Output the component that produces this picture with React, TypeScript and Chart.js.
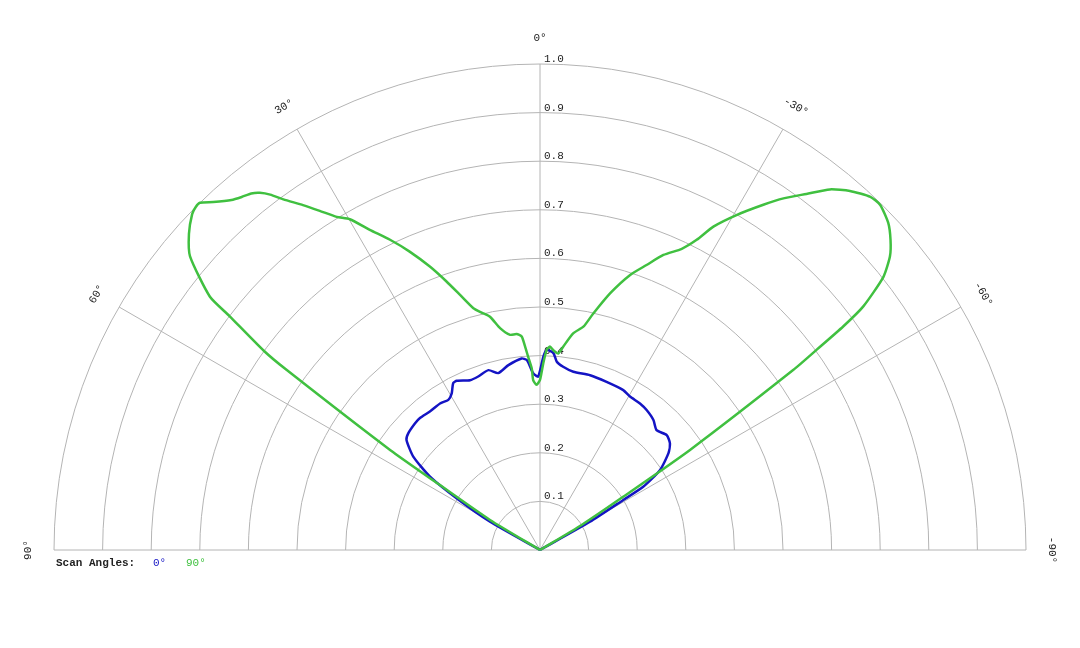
import { useEffect, useRef } from "react";
import Chart from "chart.js/auto";

// radial rings (relative intensity) and their labels
const RINGS = [0.1, 0.2, 0.3, 0.4, 0.5, 0.6, 0.7, 0.8, 0.9, 1.0];
const RING_LABELS = ["0.1", "0.2", "0.3", "0.4", "0.5", "0.6", "0.7", "0.8", "0.9", "1.0"];

// spokes, degrees (positive to the left of vertical)
const SPOKES = [90, 60, 30, 0, -30, -60, -90];
const SPOKE_LABELS = ["90°", "60°", "30°", "0°", "-30°", "-60°", "-90°"];

const SERIES_NAMES = ["0°", "90°"];
const SERIES_COLORS = ["#1414c4", "#40c040"];

// scan angle 0°
const BLUE_ANGLES = [
  90, 63, 60.5, 58.2, 56.3, 53.6, 50.5, 48.5, 44.6, 42.3, 38.5, 34.3, 31.4, 29.4, 27.5, 26.2,
  22.4, 19.6, 16, 13.3, 9.7, 5.5, 4, 3.1, 2.2, 0.6, -1, -1.9, -3.9, -5.1, -7.2, -10.6, -16,
  -21.6, -27.5, -30.4, -34.3, -37.3, -41.1, -44.2, -47.8, -50.6, -53, -56.3, -58.5, -59,
  -60.5, -63, -90,
];
const BLUE_VALUES = [
  0, 0, 0.118, 0.202, 0.272, 0.324, 0.356, 0.362, 0.366, 0.367, 0.364, 0.365, 0.362, 0.37,
  0.387, 0.388, 0.378, 0.379, 0.385, 0.374, 0.386, 0.396, 0.392, 0.378, 0.364, 0.357, 0.398,
  0.412, 0.406, 0.389, 0.38, 0.373, 0.374, 0.372, 0.371, 0.366, 0.365, 0.362, 0.355, 0.344,
  0.352, 0.346, 0.331, 0.297, 0.249, 0.2, 0.118, 0, 0,
];

// scan angle 90°
const GREEN_ANGLES = [
  90, 62, 59, 57, 56.3, 54.6, 54.2, 53, 52.5, 50, 48, 46, 45.1, 44.4, 43.2, 41.4, 40.2, 39,
  38.1, 37.2, 36.2, 34.5, 33, 31.4, 29.9, 28, 25.8, 23.6, 21.2, 19.2, 17.4, 15.4, 13.8, 12.1,
  10.2, 7.9, 6.2, 4.9, 4.2, 3.5, 2.6, 2.3, 1.2, 0, -1, -1.9, -2.8, -3.8, -5.3, -6.5, -8.7,
  -11, -12.7, -15.3, -18.1, -20.5, -22.7, -25.2, -26.8, -28.2, -30.4, -32.9, -34.7, -36.8,
  -38.8, -40.8, -43.1, -44.6, -46.8, -48.5, -50, -51.5, -53, -53.6, -54.1, -54.6, -56.3,
  -57.4, -59, -62, -90,
];
const GREEN_VALUES = [
  0, 0, 0.12, 0.25, 0.37, 0.64, 0.7, 0.8, 0.856, 0.94, 0.972, 0.995, 1.0, 1.0, 0.982, 0.96,
  0.951, 0.944, 0.934, 0.918, 0.894, 0.861, 0.832, 0.803, 0.785, 0.746, 0.709, 0.67, 0.625,
  0.585, 0.55, 0.516, 0.503, 0.491, 0.464, 0.447, 0.447, 0.441, 0.42, 0.398, 0.374, 0.35,
  0.34, 0.35, 0.384, 0.412, 0.419, 0.412, 0.406, 0.421, 0.451, 0.468, 0.499, 0.548, 0.595,
  0.626, 0.658, 0.685, 0.715, 0.755, 0.799, 0.846, 0.88, 0.915, 0.952, 0.976, 0.995, 0.997,
  0.983, 0.963, 0.94, 0.903, 0.833, 0.775, 0.703, 0.639, 0.371, 0.203, 0.1, 0, 0,
];

const FONT = "'Liberation Mono', 'Courier New', monospace";
const rad = (d: number) => (d * Math.PI) / 180;

// polar (angle, r) -> chart x/y, 0° pointing up, positive angles to the left
const toXY = (angles: number[], values: number[]) =>
  angles.map((a, i) => ({ x: -values[i] * Math.sin(rad(a)), y: values[i] * Math.cos(rad(a)) }));

const polarGrid = {
  id: "polarGrid",
  beforeDatasetsDraw(chart: any) {
    const { ctx, scales } = chart;
    const cx = scales.x.getPixelForValue(0);
    const cy = scales.y.getPixelForValue(0);
    const unit = scales.x.getPixelForValue(1) - cx;
    ctx.save();
    ctx.strokeStyle = "#b4b4b4";
    ctx.lineWidth = 1;
    RINGS.forEach((r) => {
      ctx.beginPath();
      ctx.arc(cx, cy, r * unit, Math.PI, 2 * Math.PI);
      ctx.stroke();
    });
    SPOKES.forEach((a) => {
      ctx.beginPath();
      ctx.moveTo(cx, cy);
      ctx.lineTo(cx - unit * Math.sin(rad(a)), cy - unit * Math.cos(rad(a)));
      ctx.stroke();
    });

    ctx.fillStyle = "#222";
    ctx.font = `11px ${FONT}`;
    ctx.textAlign = "left";
    ctx.textBaseline = "middle";
    RINGS.forEach((r, i) => ctx.fillText(RING_LABELS[i], cx + 4, cy - r * unit - 5));

    ctx.textAlign = "center";
    SPOKES.forEach((a, i) => {
      const lr = unit * 1.053;
      ctx.save();
      ctx.translate(cx - lr * Math.sin(rad(a)), cy - lr * Math.cos(rad(a)));
      ctx.rotate(-rad(a));
      ctx.fillText(SPOKE_LABELS[i], 0, 0);
      ctx.restore();
    });
    ctx.restore();
  },
  afterDraw(chart: any) {
    const { ctx, chartArea, scales } = chart;
    const y = scales.y.getPixelForValue(0) + 13;
    ctx.save();
    ctx.textBaseline = "middle";
    ctx.textAlign = "left";
    ctx.font = `bold 11px ${FONT}`;
    ctx.fillStyle = "#222";
    ctx.fillText("Scan Angles:", chartArea.left + 2, y);
    ctx.font = `11px ${FONT}`;
    ctx.fillStyle = SERIES_COLORS[0];
    ctx.fillText(SERIES_NAMES[0], chartArea.left + 99, y);
    ctx.fillStyle = SERIES_COLORS[1];
    ctx.fillText(SERIES_NAMES[1], chartArea.left + 132, y);
    ctx.restore();
  },
};

export default function App() {
  const canvasRef = useRef<HTMLCanvasElement>(null);
  const chartRef = useRef<any>(null);

  useEffect(() => {
    if (!canvasRef.current) return;
    const ctx = canvasRef.current.getContext("2d");
    if (!ctx) return;
    if (chartRef.current) chartRef.current.destroy();

    chartRef.current = new Chart(ctx, {
      type: "scatter",
      data: {
        datasets: [
          {
            label: SERIES_NAMES[1],
            data: toXY(GREEN_ANGLES, GREEN_VALUES),
            borderColor: SERIES_COLORS[1],
            borderWidth: 2.5,
            showLine: true,
            pointRadius: 0,
            tension: 0.2,
            clip: false,
          },
          {
            label: SERIES_NAMES[0],
            data: toXY(BLUE_ANGLES, BLUE_VALUES),
            borderColor: SERIES_COLORS[0],
            borderWidth: 2.5,
            showLine: true,
            pointRadius: 0,
            tension: 0.2,
            clip: false,
          },
        ],
      },
      plugins: [polarGrid],
      options: {
        responsive: true,
        maintainAspectRatio: false,
        animation: false,
        layout: { padding: { left: 54, right: 54, top: 64, bottom: 98 } },
        scales: {
          x: { type: "linear", min: -1, max: 1, display: false },
          y: { type: "linear", min: 0, max: 1, display: false },
        },
        plugins: {
          legend: { display: false },
          tooltip: { enabled: false },
        },
      },
    });

    return () => chartRef.current?.destroy();
  }, []);

  return (
    <div style={{ position: "absolute", left: 0, top: 0, width: 1080, height: 648, background: "#fff" }}>
      <canvas ref={canvasRef} />
    </div>
  );
}
